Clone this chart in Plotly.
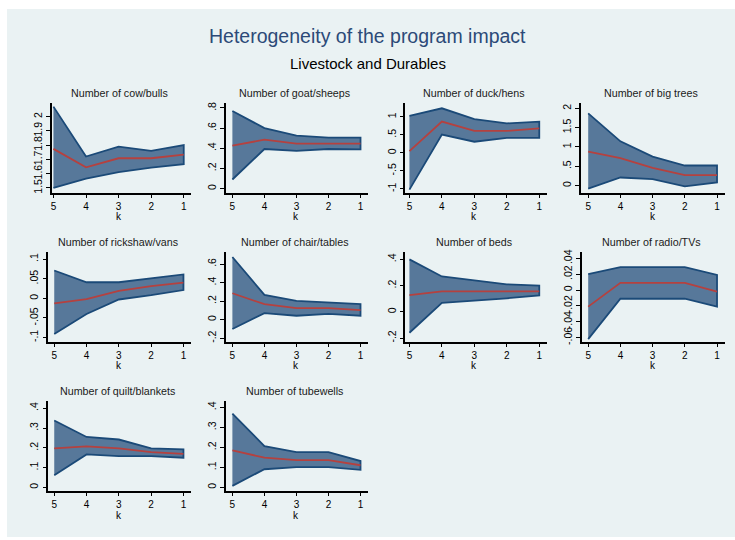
import plotly.graph_objects as go

# Horizon k on the x axis (reversed: 5 on the left, 1 on the right)
k = [5, 4, 3, 2, 1]

# Panel titles
titles = [
    "Number of cow/bulls", "Number of goat/sheeps", "Number of duck/hens",
    "Number of big trees", "Number of rickshaw/vans", "Number of chair/tables",
    "Number of beds", "Number of radio/TVs", "Number of quilt/blankets",
    "Number of tubewells",
]

# Upper bound, point estimate and lower bound of each confidence band
cow_hi = [2.07, 1.72, 1.79, 1.76, 1.80]
cow_est = [1.774, 1.644, 1.708, 1.708, 1.734]
cow_lo = [1.50, 1.565, 1.611, 1.642, 1.667]

goat_hi = [0.77, 0.60, 0.525, 0.505, 0.505]
goat_est = [0.426, 0.485, 0.446, 0.446, 0.446]
goat_lo = [0.09, 0.393, 0.374, 0.393, 0.39]

duck_hi = [1.03, 1.24, 0.94, 0.82, 0.87]
duck_est = [0.05, 0.87, 0.61, 0.61, 0.68]
duck_lo = [-1.02, 0.51, 0.31, 0.42, 0.42]

trees_hi = [1.87, 1.145, 0.75, 0.52, 0.52]
trees_est = [0.88, 0.71, 0.46, 0.27, 0.27]
trees_lo = [-0.08, 0.21, 0.17, -0.02, 0.08]

rick_hi = [0.071, 0.041, 0.041, 0.051, 0.061]
rick_est = [-0.013, -0.002, 0.019, 0.031, 0.04]
rick_lo = [-0.091, -0.04, -0.003, 0.008, 0.021]

chair_hi = [0.676, 0.267, 0.203, 0.185, 0.167]
chair_est = [0.285, 0.167, 0.125, 0.125, 0.103]
chair_lo = [-0.10, 0.071, 0.043, 0.064, 0.043]

beds_hi = [0.40, 0.27, 0.24, 0.21, 0.20]
beds_est = [0.128, 0.156, 0.156, 0.156, 0.156]
beds_lo = [-0.16, 0.068, 0.088, 0.103, 0.126]

radio_hi = [0.02, 0.029, 0.029, 0.029, 0.019]
radio_est = [-0.021, 0.009, 0.009, 0.009, -0.002]
radio_lo = [-0.062, -0.011, -0.011, -0.011, -0.021]

quilt_hi = [0.338, 0.255, 0.242, 0.197, 0.192]
quilt_est = [0.197, 0.207, 0.197, 0.178, 0.17]
quilt_lo = [0.062, 0.167, 0.158, 0.158, 0.15]

tube_hi = [0.369, 0.207, 0.177, 0.177, 0.132]
tube_est = [0.185, 0.149, 0.137, 0.137, 0.111]
tube_lo = [0.008, 0.091, 0.102, 0.102, 0.088]

# Y tick values and their labels
cow_ticks = [1.5, 1.6, 1.7, 1.8, 1.9, 2]
cow_labels = ["1.5", "1.6", "1.7", "1.8", "1.9", "2"]
goat_ticks = [0, 0.2, 0.4, 0.6, 0.8]
goat_labels = ["0", ".2", ".4", ".6", ".8"]
duck_ticks = [-1, -0.5, 0, 0.5, 1]
duck_labels = ["-1", "-.5", "0", ".5", "1"]
trees_ticks = [0, 0.5, 1, 1.5, 2]
trees_labels = ["0", ".5", "1", "1.5", "2"]
rick_ticks = [-0.1, -0.05, 0, 0.05, 0.1]
rick_labels = ["-.1", "-.05", "0", ".05", ".1"]
chair_ticks = [-0.2, 0, 0.2, 0.4, 0.6]
chair_labels = ["-.2", "0", ".2", ".4", ".6"]
beds_ticks = [-0.2, 0, 0.2, 0.4]
beds_labels = ["-.2", "0", ".2", ".4"]
radio_ticks = [-0.06, -0.04, -0.02, 0, 0.02, 0.04]
radio_labels = ["-.06", "-.04", "-.02", "0", ".02", ".04"]
quilt_ticks = [0, 0.1, 0.2, 0.3, 0.4]
quilt_labels = ["0", ".1", ".2", ".3", ".4"]
tube_ticks = [0, 0.1, 0.2, 0.3, 0.4]
tube_labels = ["0", ".1", ".2", ".3", ".4"]

series = [
    (cow_hi, cow_est, cow_lo, cow_ticks, cow_labels),
    (goat_hi, goat_est, goat_lo, goat_ticks, goat_labels),
    (duck_hi, duck_est, duck_lo, duck_ticks, duck_labels),
    (trees_hi, trees_est, trees_lo, trees_ticks, trees_labels),
    (rick_hi, rick_est, rick_lo, rick_ticks, rick_labels),
    (chair_hi, chair_est, chair_lo, chair_ticks, chair_labels),
    (beds_hi, beds_est, beds_lo, beds_ticks, beds_labels),
    (radio_hi, radio_est, radio_lo, radio_ticks, radio_labels),
    (quilt_hi, quilt_est, quilt_lo, quilt_ticks, quilt_labels),
    (tube_hi, tube_est, tube_lo, tube_ticks, tube_labels),
]

W, H = 735, 540

# Panel geometry in pixels: (left, right, top, bottom) and axis ranges
geometry = [
    (51, 190, 102, 193, (5.046, 0.785), (1.463, 2.095)),
    (225, 367, 102, 193, (5.209, 0.782), (-0.046, 0.849)),
    (405, 547, 102, 193, (5.123, 0.754), (-1.12, 1.385)),
    (581, 725, 102, 193, (5.217, 0.752), (-0.197, 2.136)),
    (47.5, 190, 252, 343, (5.18, 0.774), (-0.111, 0.119)),
    (225, 367, 252, 343, (5.209, 0.782), (-0.238, 0.733)),
    (405, 547, 252, 343, (5.123, 0.754), (-0.229, 0.459)),
    (582, 725, 252, 343, (5.186, 0.752), (-0.0654, 0.0484)),
    (47.5, 190, 403, 494, (5.18, 0.774), (-0.02, 0.435)),
    (225, 367, 403, 494, (5.209, 0.782), (-0.02, 0.431)),
]

BG = "#eaf2f3"
FILL = "#57789a"
EDGE = "#1b4a78"
EST = "#b5413f"
FONT = "Liberation Sans, Arial, sans-serif"

fig = go.Figure()
layout = {}
annotations = []

for i, ((hi, est, lo, ticks, labels), (x0, x1, y0, y1, xr, yr)) in enumerate(zip(series, geometry)):
    n = i + 1
    xa = "x" if n == 1 else f"x{n}"
    ya = "y" if n == 1 else f"y{n}"
    fig.add_trace(go.Scatter(
        x=k + k[::-1], y=hi + lo[::-1], xaxis=xa, yaxis=ya,
        mode="lines", fill="toself", fillcolor=FILL,
        line=dict(color=EDGE, width=1.8), hoverinfo="skip", showlegend=False,
    ))
    fig.add_trace(go.Scatter(
        x=k, y=est, xaxis=xa, yaxis=ya, mode="lines",
        line=dict(color=EST, width=1.8), showlegend=False,
    ))
    layout["xaxis" if n == 1 else f"xaxis{n}"] = dict(
        domain=[x0 / W, x1 / W], range=list(xr), anchor=ya,
        tickmode="array", tickvals=k, ticktext=[str(v) for v in k],
        showgrid=False, zeroline=False, showline=True, linecolor="black",
        linewidth=1.5, ticks="outside", ticklen=3, tickwidth=1, tickcolor="black",
        tickfont=dict(family=FONT, size=10, color="black"),
    )
    layout["yaxis" if n == 1 else f"yaxis{n}"] = dict(
        domain=[1 - y1 / H, 1 - y0 / H], range=list(yr), anchor=xa,
        tickmode="array", tickvals=ticks, ticktext=labels, tickangle=-90,
        showgrid=True, gridcolor=BG, gridwidth=1.2, zeroline=False,
        showline=True, linecolor="black", linewidth=1.5,
        ticks="outside", ticklen=4, tickwidth=1, tickcolor="black",
        tickfont=dict(family=FONT, size=10.5, color="black"),
    )
    annotations.append(dict(
        text=titles[i], xref="paper", yref="paper",
        x=((x0 + x1) / 2 - 2) / W, y=1 - (y0 - 10) / H,
        showarrow=False, xanchor="center", yanchor="middle",
        font=dict(family=FONT, size=10.7, color="#1a1a1a"),
    ))
    annotations.append(dict(
        text="k", xref=xa, yref="paper", x=3, y=1 - (y1 + 24) / H,
        showarrow=False, xanchor="center", yanchor="middle",
        font=dict(family=FONT, size=10, color="black"),
    ))

annotations.append(dict(
    text="Heterogeneity of the program impact", xref="paper", yref="paper",
    x=367 / W, y=1 - 34 / H, showarrow=False, xanchor="center", yanchor="middle",
    font=dict(family=FONT, size=19.5, color="#2c4a78"),
))
annotations.append(dict(
    text="Livestock and Durables", xref="paper", yref="paper",
    x=367 / W, y=1 - 62 / H, showarrow=False, xanchor="center", yanchor="middle",
    font=dict(family=FONT, size=15, color="black"),
))

fig.update_layout(
    width=W, height=H, margin=dict(l=0, r=0, t=0, b=0),
    paper_bgcolor="white", plot_bgcolor="white",
    annotations=annotations,
    shapes=[dict(type="rect", xref="paper", yref="paper",
                 x0=6 / W, x1=1, y0=0, y1=1 - 7 / H,
                 fillcolor=BG, line=dict(width=0), layer="below")],
    **layout,
)

fig.write_html("out.html")
